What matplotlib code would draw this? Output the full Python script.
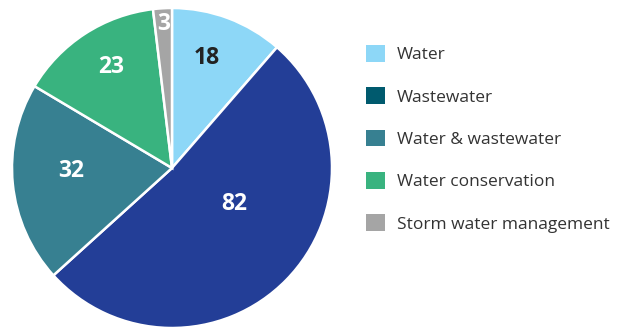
import matplotlib
matplotlib.use('Agg')
import matplotlib.pyplot as plt
from matplotlib.patches import Patch
import numpy as np

plt.rcParams['font.family'] = ['Open Sans', 'DejaVu Sans']

# pie data
values = [18, 82, 32, 23, 3]
slice_colors = ['#8dd7f7', '#233e97', '#378091', '#39b37f', '#a5a5a5']
label_colors = ['#222222', 'white', 'white', 'white', 'white']

# legend entries
legend_names = ['Water', 'Wastewater', 'Water & wastewater', 'Water conservation', 'Storm water management']
legend_colors = ['#8dd7f7', '#005a6e', '#378091', '#39b37f', '#a5a5a5']

# label placement (fraction of radius, angle nudge in degrees)
label_dist = [0.72, 0.45, 0.63, 0.74, 0.9]
label_nudge = [3, 14, -4, -2, 0]

fig = plt.figure(figsize=(6.17, 3.27), dpi=100)
ax = fig.add_axes([12/617, -1/327, 320/617, 320/327])

wedges, _ = ax.pie(values, colors=slice_colors, startangle=90, counterclock=False,
                   radius=1, wedgeprops=dict(edgecolor='white', linewidth=1.8))

for w, v, d, n, c in zip(wedges, values, label_dist, label_nudge, label_colors):
    ang = np.deg2rad((w.theta1 + w.theta2) / 2 + n)
    ax.text(d * np.cos(ang), d * np.sin(ang), str(v), ha='center', va='center',
            fontsize=16.5, fontweight='bold', color=c)

ax.set_xlim(-1, 1)
ax.set_ylim(-1, 1)
ax.set_aspect('equal')
ax.axis('off')

handles = [Patch(facecolor=c, edgecolor='none') for c in legend_colors]
fig.legend(handles, legend_names, loc='upper left', bbox_to_anchor=(366/617, 1 - 45/327),
           frameon=False, fontsize=12.5, handlelength=1.1, handleheight=1.1,
           handletextpad=0.7, labelspacing=1.39, borderaxespad=0, borderpad=0,
           labelcolor='#333333')

plt.savefig('out.png', dpi=100)
